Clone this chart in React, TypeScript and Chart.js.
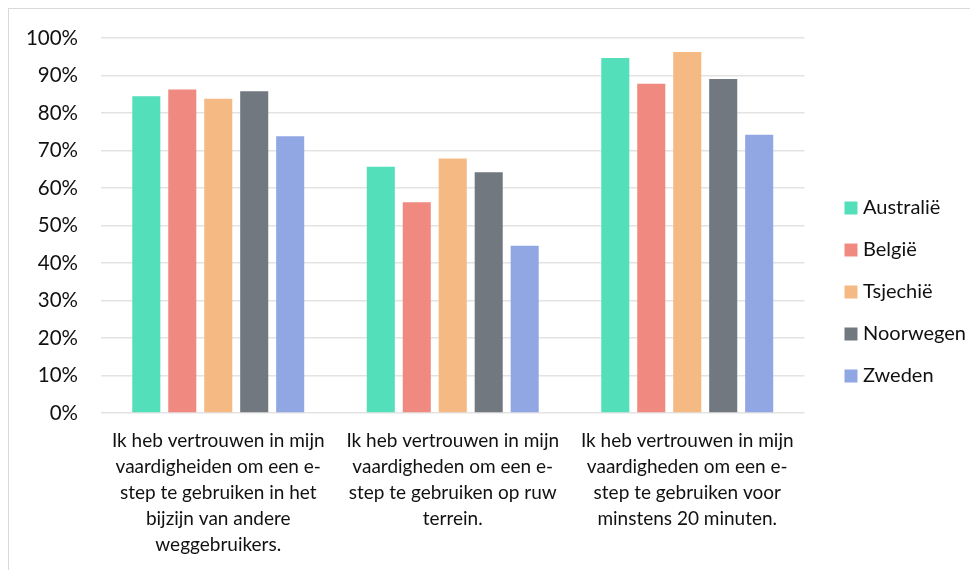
import React, { useEffect, useRef } from "react";
import { Chart, registerables } from "chart.js";

Chart.register(...registerables);

const categories: string[][] = [
  ["Ik heb vertrouwen in mijn", "vaardigheiden om een e-", "step te gebruiken in het", "bijzijn van andere", "weggebruikers."],
  ["Ik heb vertrouwen in mijn", "vaardigheden om een e-", "step te gebruiken op ruw", "terrein."],
  ["Ik heb vertrouwen in mijn", "vaardigheden om een e-", "step te gebruiken voor", "minstens 20 minuten."],
];

const seriesNames = ["Australië", "België", "Tsjechië", "Noorwegen", "Zweden"];
const australie = [84.5, 65.7, 94.7];
const belgie = [86.3, 56.2, 87.8];
const tsjechie = [83.8, 67.9, 96.3];
const noorwegen = [85.8, 64.2, 89.1];
const zweden = [73.8, 44.6, 74.2];
const seriesColors = ["#52DFBA", "#F08A80", "#F5B983", "#717880", "#91A7E3"];

const FONT = "Lato, 'Open Sans', sans-serif";

export default function App() {
  const ref = useRef<HTMLCanvasElement | null>(null);
  useEffect(() => {
    if (!ref.current) return;
    document.body.style.overflow = "hidden";
    const values = [australie, belgie, tsjechie, noorwegen, zweden];
    const chart = new Chart(ref.current, {
      type: "bar",
      data: {
        labels: categories,
        datasets: seriesNames.map((name, i) => ({
          label: name,
          data: values[i],
          backgroundColor: seriesColors[i],
          borderWidth: 0,
          barPercentage: 0.78,
          categoryPercentage: 0.767,
        })),
      },
      options: {
        animation: false,
        responsive: false,
        maintainAspectRatio: false,
        layout: { padding: { left: 0, top: 9, right: 33, bottom: 43 } },
        plugins: {
          tooltip: { enabled: false },
          legend: {
            position: "right",
            labels: {
              usePointStyle: true,
              pointStyle: "rect",
              boxWidth: 4,
              boxHeight: 13,
              padding: 22,
              color: "#111",
              font: { family: FONT, size: 20 },
            },
          },
        },
        scales: {
          x: {
            grid: { display: false, drawTicks: false },
            border: { display: false },
            afterFit: (s: any) => { s.height = 153; },
            ticks: {
              color: "#111",
              padding: 15,
              maxRotation: 0,
              autoSkip: false,
              font: { family: FONT, size: 19, lineHeight: 1.368 },
            },
          },
          y: {
            min: 0,
            max: 100,
            grid: { color: "#e3e3e3", lineWidth: 1.5, drawTicks: false },
            border: { display: false },
            afterFit: (s: any) => { s.width = 92; s.paddingTop = 29; },
            ticks: {
              stepSize: 10,
              padding: 23,
              color: "#111",
              font: { family: FONT, size: 20.5 },
              callback: (v: any) => v + "%",
            },
          },
          gap: {
            type: "linear",
            position: "right",
            display: true,
            grid: { display: false, drawTicks: false },
            border: { display: false },
            ticks: { display: false },
            afterFit: (s: any) => { s.width = 22.5; },
          },
        },
      },
    });
    return () => chart.destroy();
  }, []);
  return (
    <div style={{ width: 970, height: 562, overflow: "hidden", borderLeft: "1px solid #d9d9d9", borderTop: "1px solid #d9d9d9", boxSizing: "border-box", background: "#fff" }}>
      <canvas ref={ref} width={1000} height={600} style={{ display: "block" }} />
    </div>
  );
}
